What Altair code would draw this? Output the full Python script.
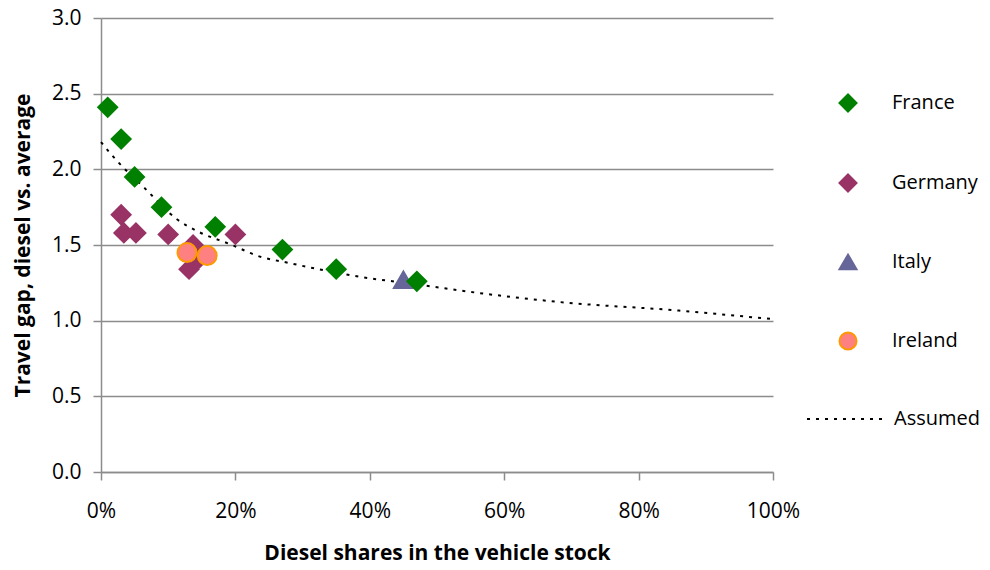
import altair as alt
import pandas as pd

# ---- data ----
countries = ["France", "Germany", "Italy", "Ireland"]
fill_colors = ["#008000", "#993366", "#666699", "#FF8080"]
stroke_colors = ["#008000", "#993366", "#666699", "#FF9900"]
shapes = ["diamond", "diamond", "triangle-up", "circle"]

france_x = [0.01, 0.03, 0.05, 0.09, 0.17, 0.27, 0.35, 0.47]
france_y = [2.41, 2.20, 1.95, 1.75, 1.62, 1.47, 1.34, 1.26]
germany_x = [0.03, 0.034, 0.052, 0.10, 0.20, 0.137, 0.143, 0.131]
germany_y = [1.70, 1.58, 1.58, 1.57, 1.57, 1.50, 1.40, 1.34]
italy_x = [0.45]
italy_y = [1.27]
ireland_x = [0.128, 0.158]
ireland_y = [1.45, 1.43]

assumed_x = [0.0, 0.013, 0.025, 0.064, 0.113, 0.144, 0.195, 0.232, 0.281,
             0.385, 0.47, 0.55, 0.69, 0.85, 1.0]
assumed_y = [2.18, 2.11, 2.05, 1.88, 1.67, 1.59, 1.50, 1.43, 1.38,
             1.29, 1.24, 1.19, 1.12, 1.07, 1.01]

# drawing order: Germany, Italy, France, Ireland (Ireland on top)
rows = []
for name, xs, ys in [("Germany", germany_x, germany_y), ("Italy", italy_x, italy_y),
                     ("France", france_x, france_y), ("Ireland", ireland_x, ireland_y)]:
    for i, (a, b) in enumerate(zip(xs, ys)):
        rows.append({"country": name, "share": a, "gap": b, "order": len(rows)})
points = pd.DataFrame(rows)
curve = pd.DataFrame({"share": assumed_x, "gap": assumed_y, "series": "Assumed"})

FONT = "Open Sans"

x_enc = alt.X("share:Q", scale=alt.Scale(domain=[0, 1], nice=False),
              axis=alt.Axis(title="Diesel shares in the vehicle stock", format=".0%",
                            values=[0, 0.2, 0.4, 0.6, 0.8, 1.0], grid=False, labelFlush=False,
                            tickSize=8, tickColor="#8c8c8c", tickWidth=1.5,
                            domainColor="#8c8c8c", domainWidth=1.5,
                            labelPadding=20, labelFontSize=21, labelColor="#000",
                            titleFontSize=21, titleFontWeight="bold", titleColor="#000",
                            titleX=336, titleY=81, titleBaseline="middle"))
y_enc = alt.Y("gap:Q", scale=alt.Scale(domain=[0, 3], nice=False),
              axis=alt.Axis(title="Travel gap, diesel vs. average", format=".1f",
                            values=[0, 0.5, 1.0, 1.5, 2.0, 2.5, 3.0],
                            grid=True, gridColor="#8c8c8c", gridWidth=1.5,
                            tickSize=8, tickColor="#8c8c8c", tickWidth=1.5,
                            domainColor="#8c8c8c", domainWidth=1.5,
                            labelPadding=12, labelFontSize=21, labelColor="#000",
                            titleFontSize=21, titleFontWeight="bold", titleColor="#000",
                            titleX=-78, titleY=227, titleBaseline="middle"))

line = alt.Chart(curve).mark_line(color="black", strokeWidth=2, interpolate="monotone").encode(
    x=x_enc, y=y_enc,
    strokeDash=alt.StrokeDash("series:N",
                              scale=alt.Scale(domain=["Assumed"], range=[[3, 6]]),
                              legend=alt.Legend(title=None, orient="none", legendX=705, legendY=362,
                                                symbolType="stroke", symbolSize=5776,
                                                symbolStrokeColor="black", symbolStrokeWidth=2,
                                                labelFontSize=20, labelFont=FONT, labelColor="#000",
                                                labelOffset=10, padding=0)),
)

leg = alt.Legend(title=None, orient="none", legendX=737, legendY=75,
                 symbolSize=290, symbolStrokeWidth=2, labelFontSize=20, labelFont=FONT,
                 labelColor="#000", labelOffset=34, rowPadding=54, padding=0)

pts = alt.Chart(points).mark_point(filled=True, size=360, strokeWidth=2, opacity=1).encode(
    x="share:Q", y="gap:Q",
    fill=alt.Fill("country:N", scale=alt.Scale(domain=countries, range=fill_colors), legend=leg),
    stroke=alt.Stroke("country:N", scale=alt.Scale(domain=countries, range=stroke_colors), legend=leg),
    shape=alt.Shape("country:N", scale=alt.Scale(domain=countries, range=shapes), legend=leg),
    order="order:Q",
)

chart = alt.layer(line, pts).properties(
    width=672, height=454,
    autosize=alt.AutoSizeParams(type="none"),
    padding={"left": 93, "top": 10, "right": 209, "bottom": 88},
).configure(font=FONT).configure_view(stroke=None)

chart.save("out.html", embed_options={"renderer": "svg", "actions": False})
